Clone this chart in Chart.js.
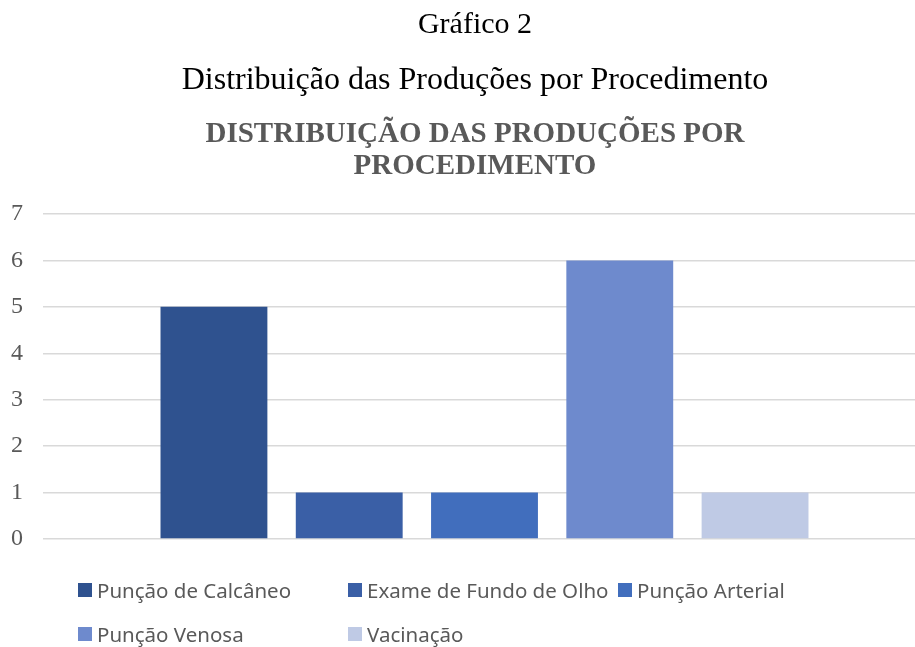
<!DOCTYPE html>
<html>
<head>
<meta charset="utf-8">
<script src="https://cdn.jsdelivr.net/npm/chart.js@4"></script>
<style>
  body { margin: 0; overflow: hidden; background: #fff; }
  #wrap { position: relative; width: 915px; height: 647px; overflow: hidden; }
  #chart { position: absolute; left: 0; top: 0; }
  .head { position: absolute; left: 0; width: 950px; text-align: center;
          font-family: "Liberation Serif", "Times New Roman", serif; color: #000; line-height: 1; }
  .titulo { color: #595959; font-weight: bold; font-size: 29px; line-height: 32px; }
  .leg { position: absolute; font-family: "Noto Sans", "Open Sans", sans-serif; font-size: 20.5px; color: #595959;
         height: 20px; display: flex; align-items: center; white-space: nowrap; }
  .leg i { display: inline-block; width: 14px; height: 14px; margin-right: 5px; }
</style>
</head>
<body>
<div id="wrap">
  <canvas id="chart" width="930" height="647" style="width:930px;height:647px"></canvas>
  <div class="head" style="top:8px;font-size:30px">Gráfico 2</div>
  <div class="head" style="top:62px;font-size:32px">Distribuição das Produções por Procedimento</div>
  <div class="head titulo" style="top:116px">DISTRIBUIÇÃO DAS PRODUÇÕES POR<br>PROCEDIMENTO</div>
  <div id="legend"></div>
</div>
<script>
const procedimentos = ["Punção de Calcâneo", "Exame de Fundo de Olho", "Punção Arterial", "Punção Venosa", "Vacinação"];
const producoes = [5, 1, 1, 6, 1];
const cores = ["#2F528F", "#3A5FA6", "#416EBD", "#6E8ACD", "#BFCAE5"];
const yTicks = [0, 1, 2, 3, 4, 5, 6, 7];

let ctx = document.getElementById("chart").getContext("2d");
let chart = new Chart(ctx, {
    type: "bar",
    data: {
        labels: [""],
        datasets: procedimentos.map((p, i) => ({
            label: p,
            data: [producoes[i]],
            backgroundColor: cores[i]
        }))
    },
    options: {
        responsive: false,
        animation: false,
        datasets: { bar: { categoryPercentage: 0.766, barPercentage: 0.79 } },
        layout: { padding: { top: 214, bottom: 108, left: -9, right: 4 } },
        plugins: {
            legend: { display: false },
            tooltip: { enabled: false },
            title: { display: false }
        },
        scales: {
            x: { display: false },
            y: {
                min: 0,
                max: 7,
                afterBuildTicks: (axis) => { axis.ticks = yTicks.map(v => ({ value: v })); },
                border: { display: false },
                grid: { color: "#D9D9D9", lineWidth: 1.5, drawTicks: false },
                ticks: {
                    color: "#595959",
                    padding: 20,
                    font: { family: "Liberation Serif", size: 24 }
                }
            }
        }
    }
});

// legenda em duas linhas, como no original
const legPos = [[78, 580], [348, 580], [618, 580], [78, 624], [348, 624]];
const legend = document.getElementById("legend");
procedimentos.forEach((p, i) => {
    let d = document.createElement("div");
    d.className = "leg";
    d.style.left = legPos[i][0] + "px";
    d.style.top = legPos[i][1] + "px";
    d.innerHTML = '<i style="background:' + cores[i] + '"></i>' + p;
    legend.appendChild(d);
});
</script>
</body>
</html>
